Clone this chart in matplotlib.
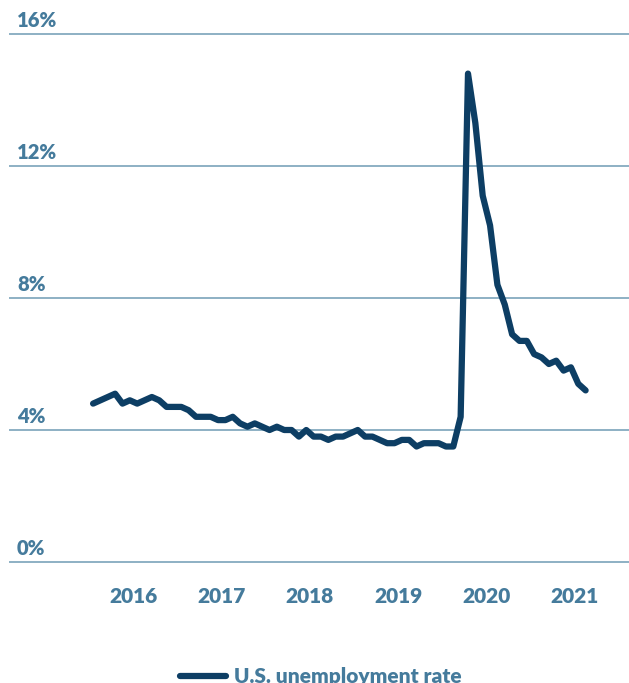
import numpy as np
import matplotlib.pyplot as plt

# ---- Data: monthly U.S. unemployment rate, Jan 2016 - Aug 2021 ----
years = ["2016", "2017", "2018", "2019", "2020", "2021"]
rate_2016 = [4.8, 4.9, 5.0, 5.1, 4.8, 4.9, 4.8, 4.9, 5.0, 4.9, 4.7, 4.7]
rate_2017 = [4.7, 4.6, 4.4, 4.4, 4.4, 4.3, 4.3, 4.4, 4.2, 4.1, 4.2, 4.1]
rate_2018 = [4.0, 4.1, 4.0, 4.0, 3.8, 4.0, 3.8, 3.8, 3.7, 3.8, 3.8, 3.9]
rate_2019 = [4.0, 3.8, 3.8, 3.7, 3.6, 3.6, 3.7, 3.7, 3.5, 3.6, 3.6, 3.6]
rate_2020 = [3.5, 3.5, 4.4, 14.8, 13.3, 11.1, 10.2, 8.4, 7.8, 6.9, 6.7, 6.7]
rate_2021 = [6.3, 6.2, 6.0, 6.1, 5.8, 5.9, 5.4, 5.2]
y_ticks = [0, 4, 8, 12, 16]
series_label = "U.S. unemployment rate"

rate = rate_2016 + rate_2017 + rate_2018 + rate_2019 + rate_2020 + rate_2021
months = np.arange(len(rate))

line_color = "#0d3e64"
label_color = "#457b9c"
grid_color = "#8db0c4"

plt.rcParams["font.family"] = ["Lato", "DejaVu Sans"]
plt.rcParams["font.weight"] = "heavy"

fig = plt.figure(figsize=(6.29, 6.83), dpi=100)
ax = fig.add_axes([10 / 629, 1 - 562 / 683, 619 / 629, 528 / 683])

ax.plot(months, rate, color=line_color, lw=4.5, solid_joinstyle="round",
        solid_capstyle="round", label=series_label, zorder=3)

ax.set_xlim(-11.3, 72.9)
ax.set_ylim(0, 16)

# horizontal gridlines with labels sitting on top, left aligned
for v in y_ticks:
    ax.axhline(v, color=grid_color, lw=1.4, zorder=1, clip_on=False)
    ax.annotate(f"{v}%", xy=(0, v), xycoords=("axes fraction", "data"),
                xytext=(5, 3), textcoords="offset points",
                ha="left", va="bottom", fontsize=14.5, fontweight="heavy",
                color=label_color)

ax.set_yticks([])
ax.set_xticks([12 * i + 5.5 for i in range(len(years))])
ax.set_xticklabels(years, fontsize=15, fontweight="heavy", color=label_color)
ax.tick_params(axis="x", length=0, pad=18)
for s in ax.spines.values():
    s.set_visible(False)

fig.legend(loc="center", bbox_to_anchor=(0.51, 1 - 677 / 683), frameon=False,
           handlelength=2.2, handletextpad=0.35, labelcolor=label_color,
           prop={"size": 15, "weight": "heavy", "family": "Lato"})

fig.savefig("out.png", dpi=100)
